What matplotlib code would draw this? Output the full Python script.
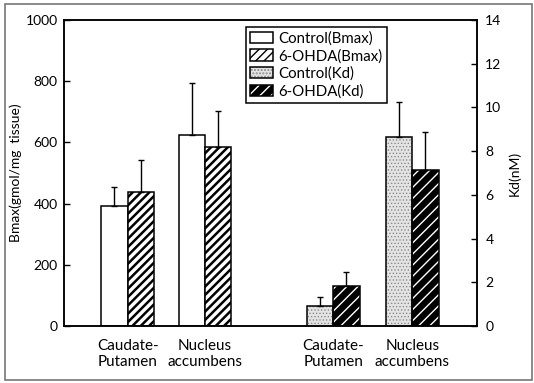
import matplotlib
matplotlib.use("Agg")
import matplotlib.pyplot as plt
from matplotlib.patches import Rectangle
from matplotlib.legend_handler import HandlerTuple

plt.rcParams['font.family'] = ['Lato', 'DejaVu Sans']

regions = ["Caudate-\nPutamen", "Nucleus\naccumbens"]
bmax_control = [391, 625]
bmax_control_err = [64, 168]
bmax_ohda = [439, 585]
bmax_ohda_err = [102, 118]
kd_control = [0.91, 8.65]
kd_control_err = [0.43, 1.58]
kd_ohda = [1.84, 7.14]
kd_ohda_err = [0.62, 1.75]

bmax_pos = [2.42, 5.36]
kd_pos = [10.24, 13.24]
w = 1.0

fig = plt.figure(figsize=(5.34, 3.83), dpi=100)
ax = fig.add_axes([64/534, 57/383, 413/534, 306/383])
ax2 = ax.twinx()

ekw = dict(elinewidth=1, capthick=1, ecolor='black')
cap = 2.5

ax.bar([p - w/2 for p in bmax_pos], bmax_control, width=w, color='white',
       edgecolor='black', linewidth=1.1,
       yerr=[[0]*2, bmax_control_err], capsize=cap, error_kw=ekw, zorder=2)
with plt.rc_context({'hatch.linewidth': 1.8}):
    ax.bar([p + w/2 for p in bmax_pos], bmax_ohda, width=w, color='white',
           edgecolor='black', linewidth=1.1, hatch='////',
           yerr=[[0]*2, bmax_ohda_err], capsize=cap, error_kw=ekw, zorder=2)

with plt.rc_context({'hatch.linewidth': 0.6}):
    ax2.bar([p - w/2 for p in kd_pos], kd_control, width=w, color='#e4e4e4',
            edgecolor='#8a8a8a', linewidth=0, hatch='.....', zorder=2)
ax2.bar([p - w/2 for p in kd_pos], kd_control, width=w, fill=False,
        edgecolor='black', linewidth=1.1,
        yerr=[[0]*2, kd_control_err], capsize=cap, error_kw=ekw, zorder=3)
with plt.rc_context({'hatch.linewidth': 1.0}):
    ax2.bar([p + w/2 for p in kd_pos], kd_ohda, width=w, color='black',
            edgecolor='white', linewidth=0, hatch='///', zorder=2)
ax2.bar([p + w/2 for p in kd_pos], kd_ohda, width=w, fill=False,
        edgecolor='black', linewidth=1.1,
        yerr=[[0]*2, kd_ohda_err], capsize=cap, error_kw=ekw, zorder=3)

ax.set_xlim(0, 413/26.3)
ax.set_ylim(0, 1000)
ax2.set_ylim(0, 14)
ax.set_yticks(range(0, 1001, 200))
ax2.set_yticks(range(0, 15, 2))
ax.set_xticks(bmax_pos + kd_pos)
ax.set_xticklabels(regions + regions, fontsize=11, linespacing=1.25)
ax.tick_params(axis='x', length=0, pad=9)
ax.tick_params(axis='y', direction='in', length=4, width=1, labelsize=10, pad=4.5)
ax2.tick_params(axis='y', direction='in', length=4, width=1, labelsize=10, pad=6)
for a in (ax, ax2):
    for s in a.spines.values():
        s.set_linewidth(1.1)
ax.set_ylabel("Bmax(gmol/mg  tissue)", fontsize=10)
ax.yaxis.set_label_coords(-(64 - 22) / 413, 0.5)
ax2.set_ylabel("Kd(nM)", fontsize=10)
ax2.yaxis.set_label_coords((508 - 64) / 413, 0.5)

# legend handles
h1 = Rectangle((0, 0), 1, 1, facecolor='white', edgecolor='black', linewidth=1.1)
with plt.rc_context({'hatch.linewidth': 1.8}):
    h2 = Rectangle((0, 0), 1, 1, facecolor='white', edgecolor='black', linewidth=1.1, hatch='////')
with plt.rc_context({'hatch.linewidth': 0.6}):
    h3a = Rectangle((0, 0), 1, 1, facecolor='#e4e4e4', edgecolor='#8a8a8a', linewidth=0, hatch='.....')
h3b = Rectangle((0, 0), 1, 1, fill=False, edgecolor='black', linewidth=1.1)
with plt.rc_context({'hatch.linewidth': 1.0}):
    h4a = Rectangle((0, 0), 1, 1, facecolor='black', edgecolor='white', linewidth=0, hatch='///')
h4b = Rectangle((0, 0), 1, 1, fill=False, edgecolor='black', linewidth=1.1)

leg = ax2.legend([h1, h2, (h3a, h3b), (h4a, h4b)],
                 ["Control(Bmax)", "6-OHDA(Bmax)", "Control(Kd)", "6-OHDA(Kd)"],
                 handler_map={tuple: HandlerTuple(ndivide=1, pad=0)},
                 loc='upper left', bbox_to_anchor=(0.44, 0.978), borderaxespad=0,
                 fontsize=10.8, fancybox=False, framealpha=1, edgecolor='black',
                 handlelength=1.55, handleheight=0.8, handletextpad=0.35,
                 labelspacing=0.22, borderpad=0.3)
leg.get_frame().set_linewidth(1.1)

fig.add_artist(Rectangle((5/534, 3/383), 527/534, 376/383, transform=fig.transFigure,
                         fill=False, edgecolor='#777777', linewidth=1.2))

fig.savefig("out.png", dpi=100)
